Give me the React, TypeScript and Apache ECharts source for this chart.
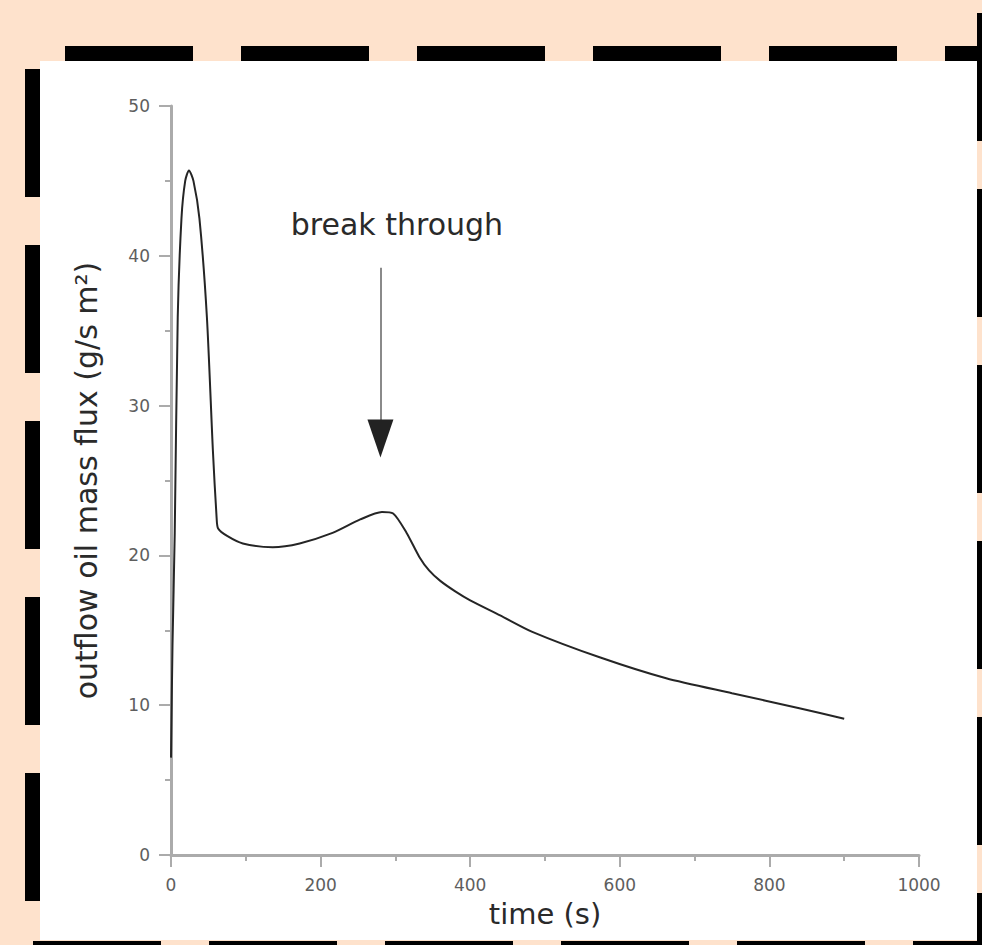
import React, { useEffect, useRef } from "react";
import * as echarts from "echarts";

// Outflow oil mass flux measured at the outlet over time
const timeS = [0, 2, 5, 9, 14, 19, 24, 30, 38, 48, 56, 61, 63, 75, 96, 136, 172, 216, 253, 282, 297, 315, 332, 345, 360, 380, 400, 440, 483, 573, 662, 750, 840, 900];
const flux = [6.5, 14, 21.5, 35.9, 42.5, 45, 45.7, 45, 42.5, 35.9, 27, 22.5, 21.8, 21.3, 20.8, 20.55, 20.8, 21.5, 22.4, 22.9, 22.8, 21.5, 19.9, 19.0, 18.3, 17.6, 17.0, 16.0, 14.9, 13.2, 11.8, 10.8, 9.8, 9.1];

// Axis ranges
const xTicks = [0, 200, 400, 600, 800, 1000];
const yTicks = [0, 10, 20, 30, 40, 50];

// Break-through annotation (time, flux values)
const breakLabel = "break through";
const breakTime = 280;
const breakLabelAt = [302, 42.1];
const arrowFrom = 39.2;
const arrowTo = 29.0;
const arrowHeadCenter = 27.8;

const PEACH = "#FEE2CC";
const AXIS_GREY = "#ababab";
const FONT = "'DejaVu Sans', sans-serif";

function dashRects() {
  const out: React.CSSProperties[] = [];
  for (let x = 65; x < 982; x += 176) out.push({ left: x, top: 46, width: 128, height: 16 });
  for (let y = 69; y < 945; y += 176) out.push({ left: 25, top: y, width: 16, height: 128 });
  for (let x = 33; x < 982; x += 176) out.push({ left: x, top: 941, width: 128, height: 16 });
  for (let y = 13; y < 945; y += 176) out.push({ left: 977, top: y, width: 16, height: 128 });
  return out;
}

export default function App() {
  const ref = useRef<HTMLDivElement>(null);

  useEffect(() => {
    if (!ref.current) return;
    const chart = echarts.init(ref.current, undefined, { renderer: "svg" });
    const tickLabel = {
      margin: 21,
      fontFamily: FONT,
      fontSize: 17,
      color: "#5e5e5e",
      formatter: (v: number) => String(v),
    };
    chart.setOption({
      animation: false,
      backgroundColor: "transparent",
      grid: { left: 171, right: 63, top: 106, bottom: 90, outerBoundsMode: "none" },
      xAxis: {
        type: "value",
        min: xTicks[0],
        max: xTicks[xTicks.length - 1],
        interval: xTicks[1] - xTicks[0],
        name: "time (s)",
        nameLocation: "middle",
        nameGap: 44,
        nameTextStyle: { fontFamily: FONT, fontSize: 29, color: "#2a2a2a" },
        axisLine: { show: true, onZero: false, lineStyle: { color: AXIS_GREY, width: 3 } },
        axisTick: { show: true, length: 12, lineStyle: { color: AXIS_GREY, width: 2 } },
        minorTick: { show: true, splitNumber: 2, length: 6, lineStyle: { color: AXIS_GREY, width: 2 } },
        axisLabel: tickLabel,
        splitLine: { show: false },
      },
      yAxis: {
        type: "value",
        min: yTicks[0],
        max: yTicks[yTicks.length - 1],
        interval: yTicks[1] - yTicks[0],
        name: "outflow oil mass flux (g/s m²)",
        nameLocation: "middle",
        nameGap: 70,
        nameTextStyle: { fontFamily: FONT, fontSize: 30, color: "#2a2a2a" },
        axisLine: { show: true, onZero: false, lineStyle: { color: AXIS_GREY, width: 3 } },
        axisTick: { show: true, length: 12, lineStyle: { color: AXIS_GREY, width: 2 } },
        minorTick: { show: true, splitNumber: 2, length: 6, lineStyle: { color: AXIS_GREY, width: 2 } },
        axisLabel: tickLabel,
        splitLine: { show: false },
      },
      series: [
        {
          type: "line",
          data: timeS.map((t, i) => [t, flux[i]]),
          showSymbol: false,
          smooth: 0.25,
          lineStyle: { color: "#252525", width: 2 },
          markLine: {
            silent: true,
            symbol: ["none", "none"],
            label: { show: false },
            lineStyle: { color: "#8a8a8a", width: 2, type: "solid" },
            data: [[{ coord: [breakTime, arrowFrom] }, { coord: [breakTime, arrowTo] }]],
          },
          markPoint: {
            silent: true,
            data: [
              {
                coord: [breakTime, arrowHeadCenter],
                symbol: "triangle",
                symbolRotate: 180,
                symbolSize: [26, 38],
                itemStyle: { color: "#222" },
                label: { show: false },
              },
              {
                coord: breakLabelAt,
                symbol: "circle",
                symbolSize: 0,
                label: {
                  show: true,
                  position: "inside",
                  formatter: breakLabel,
                  fontFamily: FONT,
                  fontSize: 30,
                  color: "#2a2a2a",
                },
              },
            ],
          },
        },
      ],
    });
    return () => chart.dispose();
  }, []);

  return (
    <div
      style={{
        position: "fixed",
        left: 0,
        top: 0,
        width: 982,
        height: 945,
        background: PEACH,
        overflow: "hidden",
      }}
    >
      {dashRects().map((s, i) => (
        <div key={i} style={{ position: "absolute", background: "#000", ...s }} />
      ))}
      <div style={{ position: "absolute", left: 40, top: 61, width: 937, height: 879, background: "#fff" }} />
      <div ref={ref} style={{ position: "absolute", left: 0, top: 0, width: 982, height: 945 }} />
    </div>
  );
}
